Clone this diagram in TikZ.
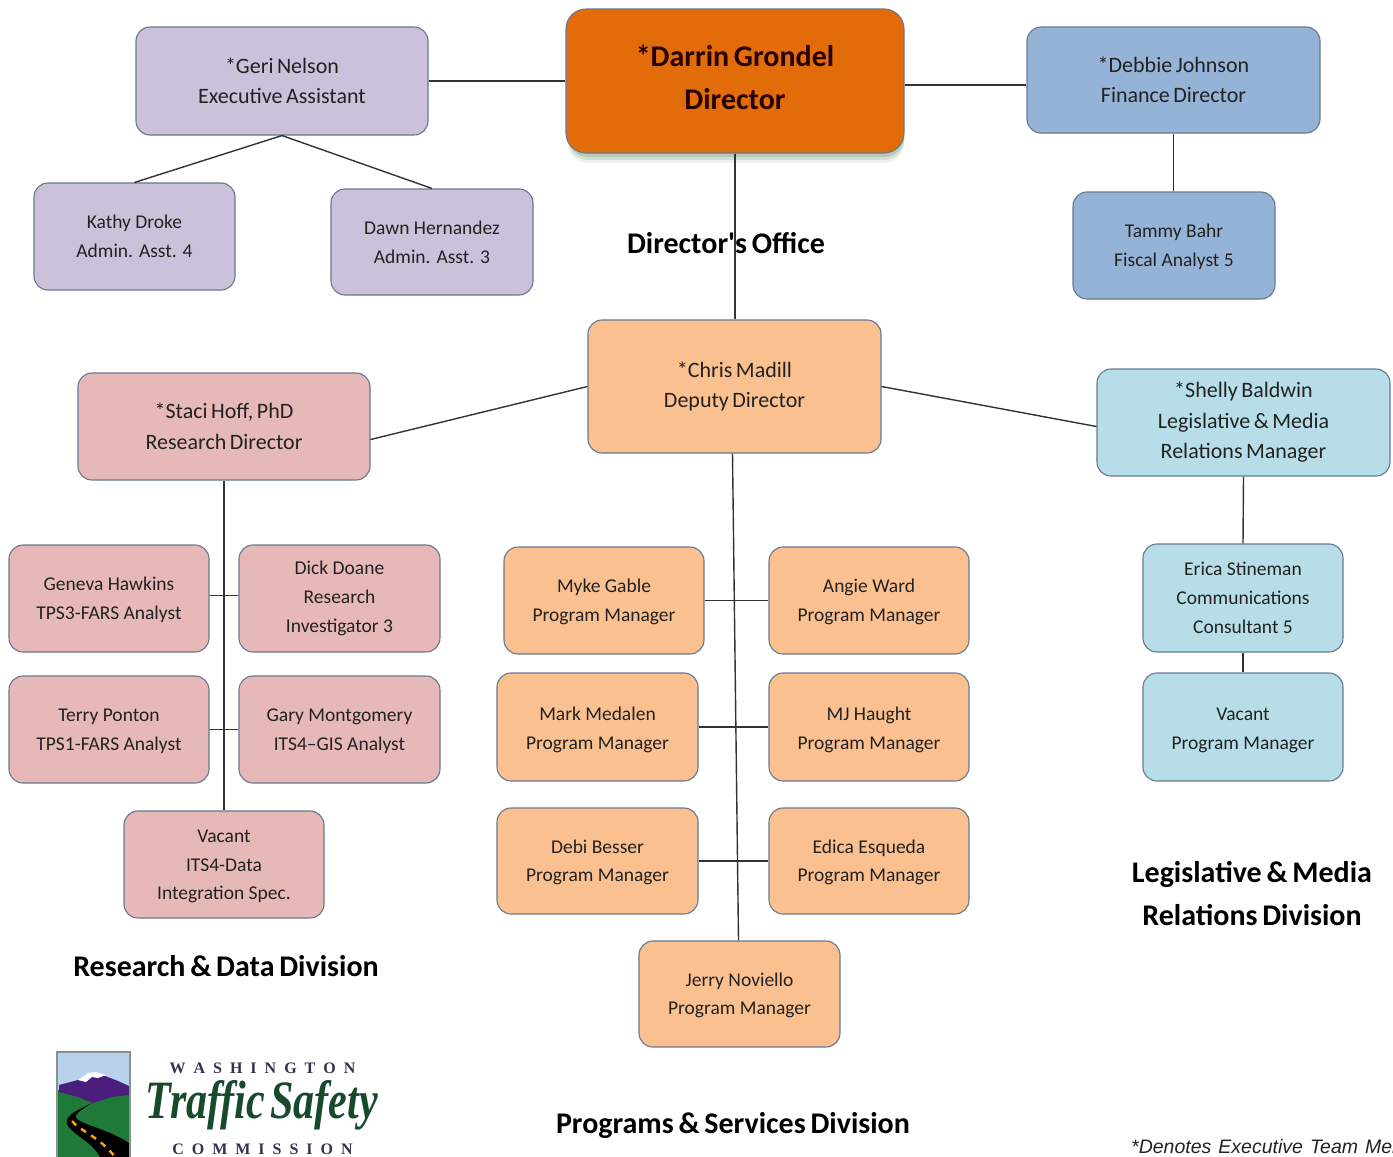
\documentclass[tikz,border=0pt]{standalone}
\usepackage{fontspec}
\setmainfont{Carlito}
\newfontfamily\logofont{Liberation Serif}
\newfontfamily\logotight[WordSpace=0.5]{Liberation Serif}
\newfontfamily\notefont[WordSpace=1.3]{Liberation Sans}
\newfontfamily\tighthead[WordSpace=0.6]{Carlito}
\newfontfamily\tightbody[WordSpace=0.7]{Carlito}
\usetikzlibrary{calc}
\definecolor{cLilac}{HTML}{CCC1DA}
\definecolor{cOrange}{HTML}{E36C0A}
\definecolor{cBlue}{HTML}{95B3D7}
\definecolor{cPeach}{HTML}{FAC090}
\definecolor{cRose}{HTML}{E6B9B8}
\definecolor{cAqua}{HTML}{B7DEE8}
\definecolor{cEdge}{HTML}{66788F}
\definecolor{cLine}{HTML}{333333}
\definecolor{cText}{HTML}{222222}
\definecolor{cGreen}{HTML}{17492C}
\definecolor{cHill}{HTML}{1F7A3A}
\definecolor{cPurple}{HTML}{4B1E7E}
\definecolor{cSky}{HTML}{B9D2EC}
\definecolor{cGrey}{HTML}{8A8F94}
\definecolor{cInk}{HTML}{34304F}
\tikzset{
  x=1pt,y=-1pt,
  orgbox/.style={draw=cEdge,line width=1.1pt,rounded corners=14pt,inner sep=0pt,align=center,text=cText,font=\tightbody\fontsize{22}{30.5}\selectfont},
  smallbox/.style={orgbox,font=\fontsize{19.5}{28.8}\selectfont},
  wire/.style={draw=cLine,line width=1.4pt},
  division/.style={inner sep=0pt,align=center,text=black,font=\tighthead\bfseries\fontsize{30}{43}\selectfont},
  spaced/.style={inner sep=0pt,text=cInk,font=\logofont\bfseries\fontsize{16}{16}\selectfont},
}
\newcommand{\lowa}{\rule{0pt}{16.5pt}}
\newcommand{\lowb}{\rule{0pt}{19.5pt}}
% name, x0, y0, x1, y1, style, colour, text
\newcommand{\orgnode}[8]{%
  \node[#6,fill=#7,minimum width=#4pt-#2pt,minimum height=#5pt-#3pt] (#1) at ({(#2+#4)/2},{(#3+#5)/2}) {#8};}
\begin{document}
\begin{tikzpicture}
\useasboundingbox (0,0) rectangle (1393,1157);
\begin{scope}
\clip (0,0) rectangle (1393,1157);
% shadow of director box
\foreach \o/\s in {0.07/10,0.10/7,0.14/4}{
  \fill[green!25!black,opacity=\o,rounded corners=20pt] (568,{12+\s}) rectangle (904,{153+\s});
}
% boxes
\orgnode{dir}{566}{9}{904}{153}{orgbox,rounded corners=20pt,text=black!85!red,font=\tighthead\bfseries\fontsize{30}{43}\selectfont}{cOrange}{*Darrin Grondel\\Director\\[-48pt]\strut}
\orgnode{geri}{136}{27}{428}{135}{orgbox}{cLilac}{*Geri Nelson\\Executive Assistant}
\orgnode{kathy}{34}{183}{235}{290}{smallbox}{cLilac}{Kathy Droke\\Admin. Asst. 4}
\orgnode{dawn}{331}{189}{533}{295}{smallbox}{cLilac}{Dawn Hernandez\\Admin. Asst. 3}
\orgnode{debbie}{1027}{27}{1320}{133}{orgbox}{cBlue}{*Debbie Johnson\\Finance Director}
\orgnode{tammy}{1073}{192}{1275}{299}{smallbox}{cBlue}{\lowa Tammy Bahr\\Fiscal Analyst 5}
\orgnode{chris}{588}{320}{881}{453}{orgbox}{cPeach}{*Chris Madill\\Deputy Director}
\orgnode{staci}{78}{373}{370}{480}{orgbox}{cRose}{*Staci Hoff, PhD\\Research Director}
\orgnode{shelly}{1097}{369}{1390}{476}{orgbox}{cAqua}{*Shelly Baldwin\\Legislative \& Media\\Relations Manager}
\orgnode{geneva}{9}{545}{209}{652}{smallbox}{cRose}{\lowa Geneva Hawkins\\TPS3-FARS Analyst}
\orgnode{dick}{239}{545}{440}{652}{smallbox}{cRose}{Dick Doane\\Research\\Investigator 3}
\orgnode{terry}{9}{676}{209}{783}{smallbox}{cRose}{\lowa Terry Ponton\\TPS1-FARS Analyst}
\orgnode{gary}{239}{676}{440}{783}{smallbox}{cRose}{\lowa Gary Montgomery\\ITS4--GIS Analyst}
\orgnode{vacr}{124}{811}{324}{918}{smallbox}{cRose}{\lowa Vacant\\ITS4-Data\\Integration Spec.}
\orgnode{myke}{504}{547}{704}{654}{smallbox}{cPeach}{\lowa Myke Gable\\Program Manager}
\orgnode{angie}{769}{547}{969}{654}{smallbox}{cPeach}{\lowa Angie Ward\\Program Manager}
\orgnode{mark}{497}{673}{698}{781}{smallbox}{cPeach}{\lowb Mark Medalen\\Program Manager}
\orgnode{mj}{769}{673}{969}{781}{smallbox}{cPeach}{\lowb MJ Haught\\Program Manager}
\orgnode{debi}{497}{808}{698}{914}{smallbox}{cPeach}{\lowa Debi Besser\\Program Manager}
\orgnode{edica}{769}{808}{969}{914}{smallbox}{cPeach}{\lowa Edica Esqueda\\Program Manager}
\orgnode{jerry}{639}{941}{840}{1047}{smallbox}{cPeach}{\lowa Jerry Noviello\\Program Manager}
\orgnode{erica}{1143}{544}{1343}{652}{smallbox}{cAqua}{Erica Stineman\\Communications\\Consultant 5}
\orgnode{vacl}{1143}{673}{1343}{781}{smallbox}{cAqua}{\lowb Vacant\\Program Manager}
% connectors
\draw[wire] (geri.east) -- (dir.west);
\draw[wire] ([yshift=-4pt]dir.east) -- ([yshift=-4pt]dir.east -| debbie.west);
\draw[wire] (geri.south) -- (kathy.north);
\draw[wire] (geri.south) -- (dawn.north);
\draw[wire] (debbie.south) -- (debbie.south |- tammy.north);
\draw[wire] (dir.south) -- (dir.south |- chris.north);
\draw[wire] (chris.west) -- ([yshift=-13pt]staci.east);
\draw[wire] (chris.east) -- ([yshift=-4pt]shelly.west);
\draw[wire] ([xshift=-2pt]chris.south) -- ([xshift=-1pt]jerry.north);
\draw[wire] (staci.south) -- (vacr.north);
\draw[wire] ([yshift=3pt]geneva.east) -- ([yshift=3pt]dick.west);
\draw[wire] (terry.east) -- (gary.west);
\draw[wire] (myke.east) -- (angie.west);
\draw[wire] (mark.east) -- (mj.west);
\draw[wire] (debi.east) -- (edica.west);
\draw[wire] (shelly.south) -- (erica.north);
\draw[wire] (erica.south) -- (vacl.north);
% division titles
\node[division] (tDir) at (726,243) {Director's Office};
\node[division] (tRes) at (226,966) {Research \& Data Division};
\node[division] (tPro) at (733,1126) {Programs \& Services Division};
\node[division] (tLeg) at (1252,894) {Legislative \& Media\\Relations Division};
% logo
\fill[cSky] (57,1052) rectangle (130,1157);
\fill[cHill] (58,1090) rectangle (129,1157);
\fill[cPurple] (59,1085) -- (78,1080) -- (88,1075) -- (100,1074) -- (118,1081) -- (129,1086) -- (129,1095) -- (112,1097) -- (93,1103) -- (78,1097) -- (59,1092) -- cycle;
\fill[white] (78,1080) -- (88,1073) -- (96,1072) -- (106,1075) -- (98,1078) -- (92,1077) -- (86,1082) -- cycle;
\fill[black] (92,1103) .. controls (78,1110) and (62,1116) .. (68,1126) .. controls (74,1135) and (92,1142) .. (100,1157) -- (129,1157) -- (129,1143) .. controls (110,1130) and (80,1124) .. (76,1118) .. controls (74,1114) and (84,1108) .. (92,1103) -- cycle;
\draw[draw=orange!70!yellow,line width=2.4pt,dash pattern=on 6pt off 6pt] (72,1121) .. controls (80,1131) and (100,1137) .. (115,1157);
\draw[cGrey,line width=1.8pt] (57,1157) -- (57,1052) -- (130,1052) -- (130,1157);
\node[spaced] (lgA) at (262.5,1068) {W\,\,\,A\,\,\,S\,\,\,H\,\,\,I\,\,\,N\,\,\,G\,\,\,T\,\,\,O\,\,\,N};
\node[inner sep=0pt,text=cGreen,xscale=0.78,transform shape,font=\logotight\bfseries\itshape\fontsize{54}{54}\selectfont] (lgB) at (262,1105) {Traffic Safety};
\node[spaced] (lgC) at (262.5,1149) {C\,\,\,O\,\,\,M\,\,\,M\,\,\,I\,\,\,S\,\,\,S\,\,\,I\,\,\,O\,\,\,N};
% footnote
\node[anchor=west,inner sep=0pt,text=cText,font=\notefont\itshape\fontsize{19.5}{19.5}\selectfont] (note) at (1131,1147) {*Denotes Executive Team Member};
\end{scope}
\end{tikzpicture}
\end{document}
